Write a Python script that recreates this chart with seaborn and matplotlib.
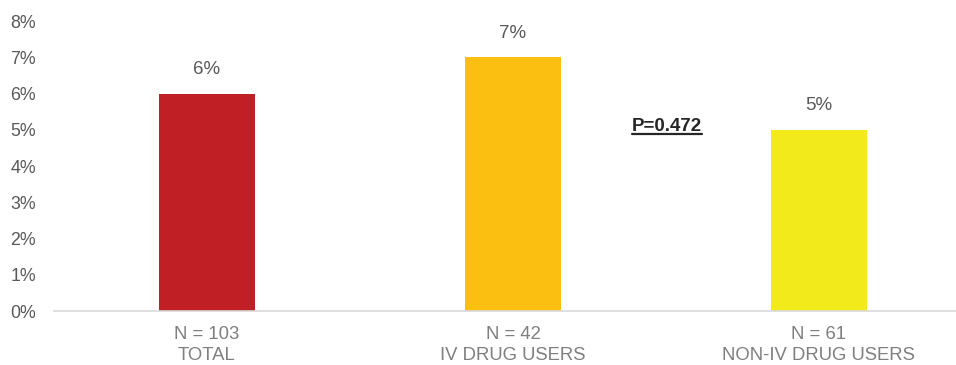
import matplotlib
matplotlib.use("Agg")
import matplotlib.pyplot as plt
import seaborn as sns
import pandas as pd

categories = ["N = 103\nTOTAL", "N = 42\nIV DRUG USERS", "N = 61\nNON-IV DRUG USERS"]
values = [0.06, 0.07, 0.05]
value_labels = ["6%", "7%", "5%"]
colors = ["#C01F26", "#FBBF12", "#F2EA1A"]
y_ticks = [0, 0.01, 0.02, 0.03, 0.04, 0.05, 0.06, 0.07, 0.08]
y_tick_labels = ["0%", "1%", "2%", "3%", "4%", "5%", "6%", "7%", "8%"]
p_text = "P=0.472"

sns.set_theme(style="white")
plt.rcParams["font.family"] = ["Liberation Sans", "DejaVu Sans"]

df = pd.DataFrame({"cat": categories, "val": values})

fig = plt.figure(figsize=(9.56, 3.65), dpi=100)
ax = fig.add_axes([54/956, (365-311)/365, 1 - 54/956, (311-21)/365])
sns.barplot(data=df, x="cat", y="val", hue="cat", palette=colors, width=0.314,
            legend=False, ax=ax, saturation=1, linewidth=0)

ax.set_xlim(-0.5, 2.448)
ax.set_ylim(0, 0.08)
ax.set_yticks(y_ticks)
ax.set_yticklabels(y_tick_labels, fontsize=12.8, color="#595959")
ax.tick_params(axis="x", labelsize=13.3, labelcolor="#7F7F7F", length=0, pad=11)
ax.tick_params(axis="y", length=0, pad=13)
ax.set_xlabel("")
ax.set_ylabel("")
for s in ["top", "right", "left"]:
    ax.spines[s].set_visible(False)
ax.spines["bottom"].set_color("#D9D9D9")
ax.spines["bottom"].set_linewidth(1.2)
for lbl in ax.get_xticklabels():
    lbl.set_linespacing(1.25)

for i, (v, t) in enumerate(zip(values, value_labels)):
    ax.annotate(t, (i, v), xytext=(0, 11), textcoords="offset points",
                ha="center", va="bottom", fontsize=13.5, color="#595959")

pt = ax.text(1.503, 0.051, p_text, ha="center", va="center", fontsize=13.5,
             fontweight="bold", color="#262626")
fig.canvas.draw()
bb = pt.get_window_extent(renderer=fig.canvas.get_renderer())
inv = ax.transData.inverted()
(x0, y0), (x1, y1) = inv.transform([(bb.x0, bb.y0 + 1), (bb.x1, bb.y0 + 1)])
ax.plot([x0, x1], [y0, y1], color="#262626", lw=1.6, clip_on=False)

fig.savefig("out.png", dpi=100)
